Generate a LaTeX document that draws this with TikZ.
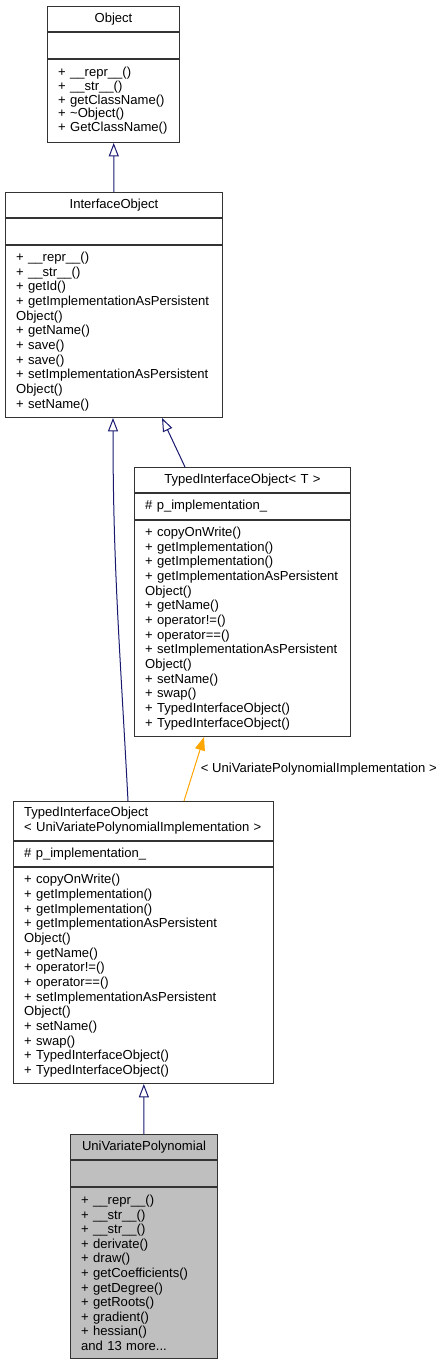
\documentclass[tikz,border=0pt]{standalone}
\usepackage{fontspec}
\setmainfont{Liberation Sans}
\usepackage{xcolor}
\usepackage{tikz}
\usetikzlibrary{arrows.meta,positioning,calc}

\definecolor{edgeblue}{HTML}{191970}
\definecolor{tmplorange}{HTML}{FFA500}
\definecolor{classgray}{HTML}{BFBFBF}

\begin{document}
\begin{tikzpicture}[
    x=0.75pt, y=-0.75pt,
    part/.style={rectangle, draw=black!80, line width=0.75pt, inner xsep=8pt, inner ysep=0pt, font=\fontsize{9.8}{11.5}\selectfont},
    ttl/.style={part, anchor=north west, minimum height=19pt, align=center},
    attr/.style={part, below=0pt of #1, minimum height=19pt, align=left},
    ops/.style={part, below=0pt of #1, align=left},
    inherit/.style={draw=edgeblue, line width=0.75pt, -{Triangle[open, length=10pt, width=7.5pt]}},
    tmpl/.style={draw=tmplorange, line width=0.75pt, -{Triangle[length=10pt, width=7.5pt]}}
]
    \useasboundingbox (0,0) rectangle (444,1363);

    % Object
    \node[ttl, text width=83pt] (obj) at (47,6) {Object};
    \node[attr=obj, text width=83pt] (objattr) {};
    \node[ops=objattr, text width=83pt, minimum height=62.5pt, font=\fontsize{9.8}{10.3}\selectfont] (objops)
        {+ \_\_repr\_\_()\\+ \_\_str\_\_()\\+ getClassName()\\+ \textasciitilde Object()\\+ GetClassName()};

    % InterfaceObject
    \node[ttl, text width=146.75pt] (ifobj) at (5,192) {InterfaceObject};
    \node[attr=ifobj, text width=146.75pt] (ifattr) {};
    \node[ops=ifattr, text width=146.75pt, minimum height=129.25pt, font=\fontsize{9.8}{11}\selectfont] (ifops)
        {+ \_\_repr\_\_()\\+ \_\_str\_\_()\\+ getId()\\+ getImplementationAsPersistent\\Object()\\+ getName()\\+ save()\\+ save()\\+ setImplementationAsPersistent\\Object()\\+ setName()};

    % TypedInterfaceObject< T >
    \node[ttl, text width=146pt] (tifobj) at (134,467) {TypedInterfaceObject< T >};
    \node[attr=tifobj, text width=146pt] (tifattr) {\# p\_implementation\_};
    \node[ops=tifattr, text width=146pt, minimum height=162.25pt, font=\fontsize{9.8}{11}\selectfont] (tifops)
        {+ copyOnWrite()\\+ getImplementation()\\+ getImplementation()\\+ getImplementationAsPersistent\\Object()\\+ getName()\\+ operator!=()\\+ operator==()\\+ setImplementationAsPersistent\\Object()\\+ setName()\\+ swap()\\+ TypedInterfaceObject()\\+ TypedInterfaceObject()};

    % TypedInterfaceObject< UniVariatePolynomialImplementation >
    \node[ttl, text width=179pt, minimum height=29.25pt, align=left, font=\fontsize{9.8}{11.25}\selectfont] (uvpiobj) at (13,801)
        {TypedInterfaceObject\\< UniVariatePolynomialImplementation >};
    \node[attr=uvpiobj, text width=179pt] (uvpiattr) {\# p\_implementation\_};
    \node[ops=uvpiattr, text width=179pt, minimum height=161.75pt, font=\fontsize{9.8}{11}\selectfont] (uvpiops)
        {+ copyOnWrite()\\+ getImplementation()\\+ getImplementation()\\+ getImplementationAsPersistent\\Object()\\+ getName()\\+ operator!=()\\+ operator==()\\+ setImplementationAsPersistent\\Object()\\+ setName()\\+ swap()\\+ TypedInterfaceObject()\\+ TypedInterfaceObject()};

    % UniVariatePolynomial
    \node[ttl, text width=94.25pt, fill=classgray] (uvp) at (70,1134) {UniVariatePolynomial};
    \node[attr=uvp, text width=94.25pt, fill=classgray] (uvpattr) {};
    \node[ops=uvpattr, text width=94.25pt, fill=classgray, minimum height=128.5pt, font=\fontsize{9.8}{10.9}\selectfont] (uvpops)
        {+ \_\_repr\_\_()\\+ \_\_str\_\_()\\+ \_\_str\_\_()\\+ derivate()\\+ draw()\\+ getCoefficients()\\+ getDegree()\\+ getRoots()\\+ gradient()\\+ hessian()\\and 13 more...};

    % Inheritance
    \draw[inherit] (ifobj) -- (objops);
    \draw[inherit] ($(tifobj.north west)+(51,0)$) -- ($(ifops.south west)+(157,0)$);
    \draw[inherit] ($(uvpiobj.north west)+(115,0)$) to[out=93, in=-90] ($(ifops.south west)+(108,0)$);
    \draw[inherit] (uvp) -- (uvpiops);

    % Template instance
    \draw[tmpl] ($(uvpiobj.north west)+(171,0)$) -- node[right, xshift=1.5pt, font=\fontsize{9.8}{11.5}\selectfont] {< UniVariatePolynomialImplementation >} ($(tifops.south west)+(70,0)$);
\end{tikzpicture}
\end{document}
